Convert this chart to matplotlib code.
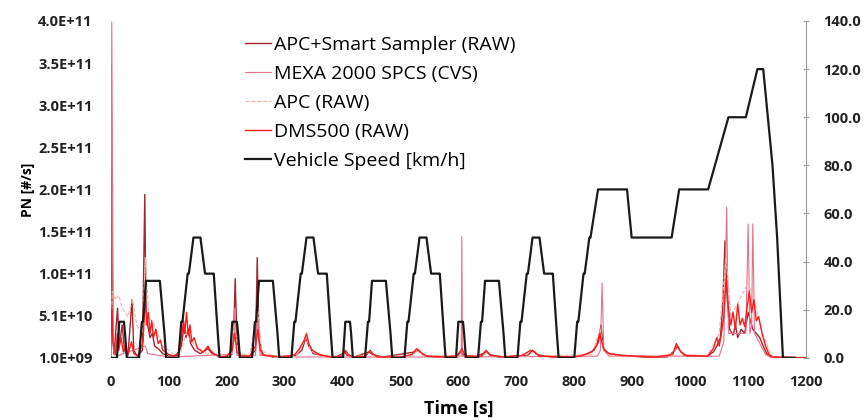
import matplotlib
matplotlib.use("Agg")
import matplotlib.pyplot as plt
from matplotlib.ticker import FuncFormatter, MultipleLocator

plt.rcParams['font.family'] = ['Open Sans', 'DejaVu Sans']

# NEDC vehicle speed, breakpoints [s] / [km/h]
speed_t = [0, 11, 15, 23, 25, 28, 49, 54, 56, 61, 85, 93, 96, 117, 122, 124, 133, 135, 143, 155, 163, 176, 178, 185, 188,
           195, 206, 210, 218, 220, 223, 244, 249, 251, 256, 280, 288, 291, 312, 317, 319, 328, 330, 338, 350, 358, 371, 373, 380, 383,
           390, 401, 405, 413, 415, 418, 439, 444, 446, 451, 475, 483, 486, 507, 512, 514, 523, 525, 533, 545, 553, 566, 568, 575, 578,
           585, 596, 600, 608, 610, 613, 634, 639, 641, 646, 670, 678, 681, 702, 707, 709, 718, 720, 728, 740, 748, 761, 763, 770, 773,
           780, 800, 805, 807, 816, 818, 826, 828, 841, 891, 899, 968, 981, 1031, 1066, 1096, 1116, 1126, 1142, 1150, 1160, 1180]
speed_v = [0, 0, 15, 15, 10, 0, 0, 15, 15, 32, 32, 10, 0, 0, 15, 15, 35, 35, 50, 50, 35, 35, 35, 10, 0,
           0, 0, 15, 15, 10, 0, 0, 15, 15, 32, 32, 10, 0, 0, 15, 15, 35, 35, 50, 50, 35, 35, 35, 10, 0,
           0, 0, 15, 15, 10, 0, 0, 15, 15, 32, 32, 10, 0, 0, 15, 15, 35, 35, 50, 50, 35, 35, 35, 10, 0,
           0, 0, 15, 15, 10, 0, 0, 15, 15, 32, 32, 10, 0, 0, 15, 15, 35, 35, 50, 50, 35, 35, 35, 10, 0,
           0, 0, 15, 15, 35, 35, 50, 50, 70, 70, 50, 50, 70, 70, 100, 100, 120, 120, 80, 50, 0, 0]

PN_UNIT = 1e9  # PN values below are in 1e9 #/s

# APC+Smart Sampler (RAW)
apcss_t = [0, 1, 3, 6, 12, 15, 20, 24, 30, 37, 40, 46, 55, 59, 61, 64, 68, 72, 76, 82, 90, 100, 115, 122, 127, 130, 134, 138,
           145, 155, 168, 175, 190, 205, 212, 215, 218, 224, 240, 250, 253, 256, 262, 280, 320, 330, 337, 342, 350, 370, 390,
           404, 408, 420, 446, 452, 470, 525, 532, 540, 560, 596, 603, 610, 630, 648, 655, 670, 720, 728, 735, 760, 800, 820,
           834, 842, 846, 850, 860, 880, 920, 960, 974, 978, 984, 995, 1030, 1040, 1046, 1052, 1056, 1060, 1064, 1068, 1074,
           1078, 1082, 1088, 1094, 1100, 1104, 1108, 1114, 1120, 1126, 1132, 1140, 1200]
apcss_v = [1, 350, 30, 5, 60, 15, 40, 10, 4, 70, 10, 3, 10, 195, 60, 40, 25, 30, 15, 12, 6, 3, 4, 15, 40, 25, 35, 18,
           10, 6, 12, 6, 2, 3, 20, 95, 20, 4, 3, 10, 120, 25, 5, 2, 4, 10, 25, 15, 6, 3, 2,
           8, 4, 2, 8, 5, 2, 8, 10, 4, 2, 3, 8, 4, 2, 8, 5, 2, 4, 10, 5, 2, 2, 5,
           10, 20, 40, 12, 6, 4, 2, 2, 10, 15, 8, 3, 3, 8, 15, 25, 60, 140, 70, 35, 28,
           40, 25, 35, 30, 55, 45, 35, 30, 25, 15, 6, 2, 1]

# MEXA 2000 SPCS (CVS)
mexa_t = [0, 2, 5, 10, 60, 64, 100, 210, 214, 218, 250, 254, 258, 300, 600, 605, 606, 607, 612, 840, 845, 848, 851, 860,
          1050, 1058, 1063, 1066, 1096, 1100, 1103, 1106, 1108, 1111, 1130, 1140, 1200]
mexa_v = [1, 400, 10, 3, 15, 6, 2, 5, 60, 4, 4, 50, 4, 2, 2, 3, 145, 3, 2, 3, 10, 90, 10, 3,
          3, 20, 180, 30, 30, 160, 30, 40, 160, 30, 5, 1, 1]

# APC (RAW)
apc_t = [0, 3, 8, 14, 20, 30, 38, 45, 55, 60, 66, 75, 90, 110, 120, 130, 140, 160, 180, 205, 214, 220, 240, 254, 260, 280,
         320, 338, 345, 360, 400, 405, 412, 520, 530, 540, 640, 650, 660, 720, 730, 740, 830, 845, 850, 870, 960, 978, 990,
         1030, 1050, 1062, 1070, 1085, 1100, 1110, 1125, 1140, 1200]
apc_v = [1, 80, 70, 75, 60, 50, 70, 40, 30, 120, 50, 40, 15, 5, 5, 30, 20, 8, 3, 3, 40, 8, 3, 60, 10, 3,
         3, 25, 10, 3, 3, 10, 3, 3, 10, 4, 3, 8, 3, 3, 8, 3, 5, 35, 10, 4, 3, 12, 4,
         4, 30, 120, 50, 70, 90, 70, 30, 3, 1]

# DMS500 (RAW)
dms_t = [0, 2, 4, 8, 12, 14, 18, 22, 26, 30, 36, 40, 48, 56, 60, 62, 65, 68, 71, 74, 78, 82, 86, 90, 95, 100, 110,
         118, 122, 126, 128, 131, 134, 137, 140, 144, 150, 160, 168, 172, 180, 190, 200, 210, 214, 218, 225, 240, 250,
         254, 258, 265, 280, 300, 318, 326, 334, 338, 342, 348, 360, 380, 400, 405, 410, 420, 440, 448, 452, 460, 500,
         520, 528, 534, 545, 580, 600, 606, 612, 640, 648, 655, 680, 710, 725, 732, 740, 790, 810, 830, 838, 844, 848,
         852, 860, 880, 940, 970, 976, 982, 990, 1030, 1040, 1046, 1050, 1054, 1058, 1062, 1066, 1070, 1074, 1078,
         1082, 1086, 1090, 1094, 1098, 1102, 1106, 1110, 1114, 1118, 1124, 1130, 1136, 1142, 1200]
dms_v = [1, 60, 20, 5, 30, 10, 25, 8, 15, 5, 20, 6, 3, 20, 80, 40, 55, 30, 45, 25, 35, 18, 22, 10, 8, 5, 3,
         8, 25, 45, 30, 55, 28, 40, 20, 25, 12, 8, 15, 10, 5, 2, 3, 10, 30, 8, 3, 3, 15,
         35, 10, 4, 3, 2, 5, 12, 22, 30, 18, 10, 5, 2, 3, 10, 5, 2, 3, 10, 6, 2, 2,
         5, 12, 8, 3, 2, 4, 12, 3, 3, 10, 4, 2, 4, 10, 8, 3, 2, 3, 8, 15, 30, 18,
         10, 6, 4, 2, 5, 18, 10, 4, 3, 12, 25, 15, 30, 50, 95, 60, 40, 55, 35,
         65, 40, 48, 38, 60, 80, 55, 70, 45, 50, 30, 15, 5, 2, 1]

fig, ax = plt.subplots(figsize=(8.64, 4.2), dpi=100)
fig.subplots_adjust(left=0.128, right=0.933, bottom=0.148, top=0.95)

l1, = ax.plot(apcss_t, [v * PN_UNIT for v in apcss_v], color='#a3262e', lw=1.0)
l2, = ax.plot(mexa_t, [v * PN_UNIT for v in mexa_v], color='#e8708a', lw=0.8)
l3, = ax.plot(apc_t, [v * PN_UNIT for v in apc_v], color='#f5b0a8', lw=0.8, ls='--')
l4, = ax.plot(dms_t, [v * PN_UNIT for v in dms_v], color='#ff1a1a', lw=1.0)

ax.set_xlim(0, 1200)
ax.set_ylim(1e9, 4.01e11)
ax.xaxis.set_major_locator(MultipleLocator(100))
ax.set_yticks([1e9 + 5e10 * k for k in range(9)])
ax.yaxis.set_major_formatter(FuncFormatter(lambda v, p: f"{v:.1E}"))
for s in ['left', 'bottom', 'top', 'right']:
    ax.spines[s].set_visible(False)
ax.tick_params(axis='both', length=0, labelsize=10.5, colors='#222222')
ax.tick_params(axis='y', pad=13)
ax.tick_params(axis='x', pad=12)
for lab in ax.get_xticklabels() + ax.get_yticklabels():
    lab.set_fontweight('bold')
ax.set_xlabel('Time [s]', fontsize=13, fontweight='bold', labelpad=8)
ax.set_ylabel('PN [#/s]', fontsize=10, fontweight='bold', labelpad=2)

ax2 = ax.twinx()
l5, = ax2.plot(speed_t, speed_v, color='#1a1a1a', lw=1.6)
ax2.set_ylim(0, 140)
ax2.set_yticks(range(0, 141, 20))
ax2.yaxis.set_major_formatter(FuncFormatter(lambda v, p: f"{v:.1f}"))
for s in ['left', 'bottom', 'top']:
    ax2.spines[s].set_visible(False)
ax2.spines['right'].set_color('#9a9a9a')
ax2.spines['right'].set_linewidth(0.8)
ax2.tick_params(axis='y', direction='inout', length=5, color='#9a9a9a', labelsize=10.5,
                labelcolor='#222222', pad=10)
for lab in ax2.get_yticklabels():
    lab.set_fontweight('bold')

ax2.legend([l1, l2, l3, l4, l5],
           ['APC+Smart Sampler (RAW)', 'MEXA 2000 SPCS (CVS)', 'APC (RAW)', 'DMS500 (RAW)', 'Vehicle Speed [km/h]'],
           loc='upper left', bbox_to_anchor=(0.275, 0.933), bbox_transform=fig.transFigure,
           frameon=False, fontsize=14, handlelength=1.3, handletextpad=0.15, labelspacing=0.57,
           borderaxespad=0)

fig.savefig('out.png', dpi=100)
